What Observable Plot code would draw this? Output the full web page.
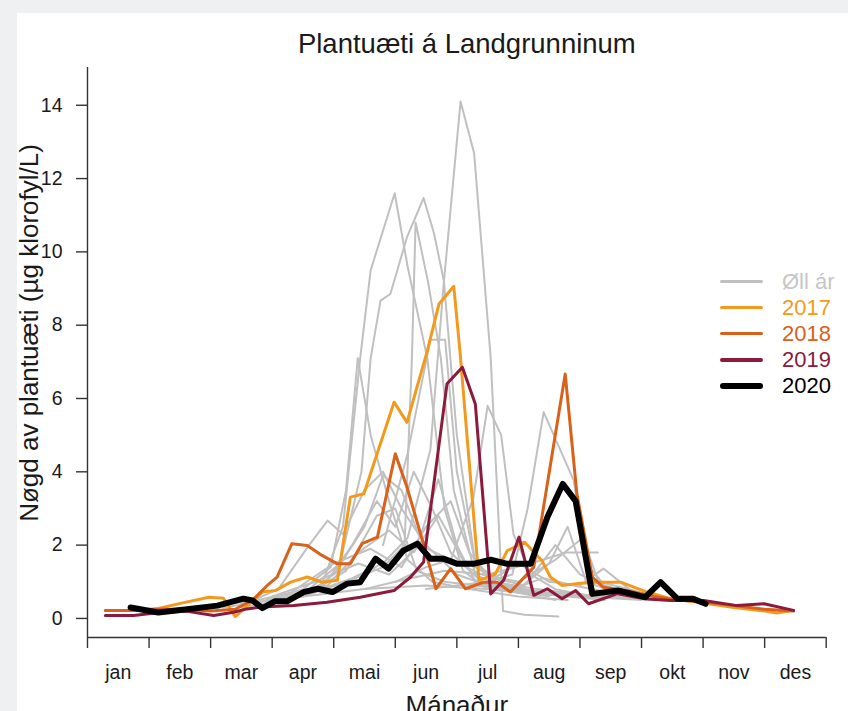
<!DOCTYPE html>
<html><head><meta charset="utf-8">
<script src="https://cdn.jsdelivr.net/npm/d3@7"></script>
<script src="https://cdn.jsdelivr.net/npm/@observablehq/plot@0.6"></script>
<style>
html,body{margin:0;padding:0;background:#eff0f2;width:848px;height:711px;overflow:hidden;}
#panel{position:absolute;left:17px;top:13px;width:831px;height:698px;background:#fff;}
#chart{position:absolute;left:0;top:0;}
#legend{position:absolute;left:720px;top:268.5px;font-family:"Liberation Sans",Arial,sans-serif;font-size:22px;}
.row{height:26.1px;line-height:26.1px;display:flex;align-items:center;white-space:nowrap;}
.sw{width:43px;margin-right:19px;border-radius:3px;}
</style></head><body>
<div id="panel"></div><div id="chart"></div><div id="legend"></div>
<script>
// ---- data (month index: 0 = 1 jan, 12 = 31 des; value in µg klorofyl/L) ----
const months = ["jan","feb","mar","apr","mai","jun","jul","aug","sep","okt","nov","des"];
const yTicks = [0,2,4,6,8,10,12,14];
const legendLabels = ["Øll ár","2017","2018","2019","2020"];

const g1 = [[2.2,0.3],[2.8,0.45],[3.3,0.6],[3.8,0.8],[4.3,1.1],[4.8,1.5],[5.2,2.2],[5.57,4.6],[5.78,9.0],[6.06,14.1],[6.28,12.7],[6.55,7.1],[6.75,0.2],[7.1,0.1],[7.65,0.05]];
const g2 = [[2.5,0.3],[3.2,0.5],[3.8,0.9],[4.15,2.5],[4.43,7.1],[4.6,9.5],[4.99,11.6],[5.2,9.6],[5.52,7.1],[5.8,3.0],[6.1,1.3],[6.5,0.8],[7.0,0.7],[7.6,0.5]];
const g3 = [[3.0,0.5],[3.6,0.8],[4.1,1.5],[4.45,4.0],[4.6,7.1],[4.76,8.67],[4.92,8.85],[5.19,10.4],[5.46,11.47],[5.63,10.5],[5.79,9.2],[6.0,5.0],[6.3,1.5],[6.7,0.9],[7.2,0.7],[7.8,0.6],[8.4,0.5]];
const g4 = [[3.5,0.6],[4.2,1.0],[4.8,1.4],[5.15,2.0],[5.27,7.1],[5.33,10.8],[5.53,9.2],[5.74,7.1],[5.95,3.5],[6.3,1.2],[6.8,0.8],[7.5,0.6]];
const g5 = [[2.9,0.5],[3.5,0.8],[3.95,1.4],[4.2,3.5],[4.39,7.1],[4.6,5.0],[4.9,3.2],[5.2,1.6],[5.6,1.0],[6.2,0.8],[7.0,0.6],[7.8,0.5]];
const g6 = [[4.5,0.8],[5.0,1.0],[5.5,1.4],[5.9,1.6],[6.27,3.3],[6.5,5.8],[6.72,5.0],[6.92,2.3],[7.2,1.2],[7.6,0.8],[8.2,0.6]];
const g7 = [[5.5,0.8],[6.0,0.9],[6.5,1.0],[6.9,1.2],[7.15,3.0],[7.41,5.63],[7.9,3.76],[8.1,1.5],[8.4,0.9],[8.8,0.7],[9.2,0.6]];
const g8 = [[5.0,1.0],[5.8,1.3],[6.5,1.2],[7.2,1.5],[7.78,1.8],[8.29,1.8]];
const g9 = [[2.0,0.3],[2.7,0.5],[3.1,0.8],[3.6,2.0],[3.9,2.67],[4.15,2.3],[4.5,3.5],[4.8,4.0],[5.1,3.0],[5.5,2.0],[6.0,1.2],[6.5,0.9],[7.0,0.8],[8.0,0.6],[9.0,0.5]];
const g10 = [[3.5,0.6],[4.0,1.2],[4.5,2.5],[4.8,3.9],[5.1,3.5],[5.4,2.2],[5.7,3.8],[6.0,2.0],[6.3,1.0],[7.0,0.7],[8.0,0.6]];
const g11 = [[3.0,0.4],[3.8,0.8],[4.3,2.0],[4.7,3.2],[5.0,2.5],[5.3,4.0],[5.6,3.0],[5.9,1.8],[6.4,1.0],[7.0,0.8],[7.5,1.5],[7.8,2.5],[8.1,1.0],[8.6,0.7]];
const g12 = [[3.2,0.5],[3.9,0.9],[4.4,1.8],[4.9,2.4],[5.3,1.8],[5.7,2.8],[6.1,1.6],[6.6,1.1],[7.1,0.9],[7.6,2.0],[8.0,1.2],[8.5,0.8],[9.0,0.6]];
const g13 = [[2.5,0.4],[3.3,0.7],[4.0,1.5],[4.6,1.9],[5.1,1.4],[5.5,2.5],[5.9,3.2],[6.2,1.8],[6.6,1.0],[7.3,0.8],[8.3,0.6]];
const g14 = [[3.6,0.7],[4.2,1.3],[4.7,2.8],[5.0,3.0],[5.35,1.3],[5.8,1.0],[6.3,0.9],[6.9,0.8],[7.4,1.1],[7.9,0.9],[8.5,0.7]];
const g15 = [[3.0,0.6],[3.7,1.0],[4.4,1.5],[4.9,1.2],[5.4,2.0],[5.9,1.6],[6.4,1.2],[7.0,1.0],[7.6,1.6],[8.05,2.2],[8.3,1.0],[8.8,0.8]];
const g16 = [[2.5,0.4],[3.5,0.6],[4.5,0.8],[5.5,0.9],[6.5,0.8],[7.5,0.7],[8.5,0.6],[9.3,0.5]];
const g17 = [[6.5,1.0],[7.0,1.5],[7.5,1.0],[8.0,0.9],[8.38,1.36],[8.8,0.8],[9.2,0.6]];
const g18 = [[4.8,2.0],[5.2,4.5],[5.57,7.6],[5.81,7.6],[6.0,4.0],[6.3,1.5],[6.8,0.9],[7.4,0.7]];
const graySeries = [g1,g2,g3,g4,g5,g6,g7,g8,g9,g10,g11,g12,g13,g14,g15,g16,g17,g18];

const y2017 = [[0.29,0.22],[0.75,0.22],[1.15,0.27],[1.51,0.41],[1.97,0.58],[2.21,0.55],[2.40,0.05],[2.73,0.55],[2.84,0.72],[3.05,0.76],[3.30,0.99],[3.57,1.13],[3.81,0.99],[4.06,1.04],[4.27,3.31],[4.49,3.40],[4.98,5.9],[5.19,5.35],[5.52,7.3],[5.71,8.58],[5.95,9.06],[6.05,7.3],[6.36,1.04],[6.62,1.2],[6.82,1.85],[7.1,2.08],[7.38,1.58],[7.52,1.13],[7.71,0.9],[7.95,0.95],[8.28,0.99],[8.66,0.99],[9.09,0.72],[9.47,0.54],[9.9,0.45],[10.5,0.3],[11.0,0.2],[11.2,0.15],[11.47,0.22]];
const y2018 = [[0.29,0.22],[0.75,0.22],[1.15,0.25],[1.6,0.25],[2.0,0.2],[2.4,0.25],[2.68,0.5],[2.92,0.9],[3.08,1.13],[3.32,2.04],[3.57,1.99],[3.81,1.72],[4.06,1.49],[4.27,1.49],[4.46,2.04],[4.71,2.22],[5.0,4.49],[5.19,3.58],[5.41,2.31],[5.66,0.81],[5.9,1.36],[6.14,0.81],[6.44,0.99],[6.65,0.99],[6.87,0.72],[7.25,1.4],[7.76,6.67],[7.95,3.4],[8.2,1.13],[8.38,0.85],[8.8,0.75],[9.2,0.6],[9.6,0.5],[10.0,0.45],[10.5,0.35],[11.0,0.25],[11.47,0.2]];
const y2019 = [[0.29,0.08],[0.75,0.08],[1.2,0.17],[1.6,0.2],[2.05,0.08],[2.37,0.17],[2.59,0.26],[2.81,0.31],[3.35,0.35],[3.89,0.44],[4.43,0.58],[4.98,0.76],[5.25,1.13],[5.46,1.54],[5.84,6.40],[6.09,6.85],[6.30,5.85],[6.55,0.67],[6.76,1.04],[7.01,2.22],[7.25,0.63],[7.47,0.81],[7.71,0.54],[7.93,0.76],[8.14,0.40],[8.6,0.67],[9.03,0.54],[9.47,0.49],[10.01,0.49],[10.55,0.35],[10.99,0.40],[11.47,0.22]];
const y2020 = [[0.70,0.30],[1.15,0.16],[1.62,0.25],[2.11,0.35],[2.53,0.54],[2.68,0.49],[2.84,0.28],[3.05,0.47],[3.25,0.47],[3.51,0.72],[3.74,0.81],[3.98,0.72],[4.22,0.95],[4.43,0.99],[4.68,1.63],[4.89,1.36],[5.13,1.85],[5.36,2.04],[5.57,1.63],[5.78,1.63],[6.01,1.49],[6.27,1.49],[6.55,1.60],[6.82,1.49],[7.20,1.49],[7.47,2.76],[7.72,3.67],[7.93,3.20],[8.20,0.67],[8.63,0.76],[9.06,0.58],[9.31,0.99],[9.58,0.54],[9.83,0.54],[10.04,0.40]];

// ---- styles ----
const FONT = '"Liberation Sans", Arial, Helvetica, sans-serif';
const INK = "#1a1a1a";
const colors = {gray:"#c0c0c0", c2017:"#f39a1e", c2018:"#d9611a", c2019:"#8b1a3c", c2020:"#000000"};
const widths = {gray:2, c2017:3, c2018:3, c2019:3, c2020:6};

const rows = (arr, s) => arr.map(([m, v]) => ({s, m, v}));
const grayRows = graySeries.flatMap((a, i) => rows(a, "g" + i));
const lineOpts = (key) => ({x: "m", y: "v", stroke: colors[key], strokeWidth: widths[key], strokeLinejoin: "round", strokeLinecap: "round"});

const yDomain = [-0.52, 15.03];

const chart = Plot.plot({
  width: 848, height: 711,
  marginLeft: 87, marginRight: 22.3, marginTop: 67, marginBottom: 74,
  style: {background: "transparent", fontFamily: FONT, fontSize: "19px", color: INK, overflow: "visible"},
  x: {domain: [0, 12]},
  y: {domain: yDomain},
  marks: [
    Plot.line(grayRows, {...lineOpts("gray"), z: "s"}),
    Plot.line(rows(y2017, "2017"), lineOpts("c2017")),
    Plot.line(rows(y2018, "2018"), lineOpts("c2018")),
    Plot.line(rows(y2019, "2019"), lineOpts("c2019")),
    Plot.line(rows(y2020, "2020"), lineOpts("c2020")),
    Plot.ruleX([0], {stroke: "#333", strokeWidth: 1.4}),
    Plot.ruleY([yDomain[0]], {stroke: "#333", strokeWidth: 1.4}),
    Plot.axisY({ticks: yTicks, tickSize: 11, tickPadding: 14, label: null, fontSize: 19.5, stroke: "#333", strokeWidth: 1.4}),
    Plot.axisX({ticks: d3.range(13), tickSize: 11, tickFormat: () => "", label: null, stroke: "#333", strokeWidth: 1.4}),
    Plot.axisX({ticks: months.map((d, i) => i + 0.5), tickSize: 0, tickPadding: 28, tickFormat: (d) => months[Math.floor(d)], label: null, fontSize: 19.5}),
    Plot.text(["Plantuæti á Landgrunninum"], {frameAnchor: "top", lineAnchor: "bottom", textAnchor: "middle", dx: 10, dy: -15, fontSize: 27.5, fill: INK}),
    Plot.text(["Mánaður"], {frameAnchor: "bottom", lineAnchor: "bottom", textAnchor: "middle", dy: 76, fontSize: 26, fill: INK}),
    Plot.text(["Nøgd av plantuæti (µg klorofyl/L)"], {frameAnchor: "left", rotate: -90, lineAnchor: "bottom", textAnchor: "middle", dx: -50, dy: -19.5, fontSize: 26, fill: INK})
  ]
});
document.getElementById("chart").appendChild(chart);

// ---- legend ----
const legendStyles = [
  {c: colors.gray, w: 2.6},
  {c: colors.c2017, w: 3.4},
  {c: colors.c2018, w: 3.4},
  {c: colors.c2019, w: 3.4},
  {c: colors.c2020, w: 6}
];
const legend = document.getElementById("legend");
legendLabels.forEach((lab, i) => {
  const r = document.createElement("div");
  r.className = "row";
  const sw = document.createElement("span");
  sw.className = "sw";
  sw.style.height = legendStyles[i].w + "px";
  sw.style.background = legendStyles[i].c;
  const t = document.createElement("span");
  t.textContent = lab;
  t.style.color = i === 0 ? "#c6c6c6" : legendStyles[i].c;
  r.appendChild(sw); r.appendChild(t);
  legend.appendChild(r);
});
</script></body></html>
